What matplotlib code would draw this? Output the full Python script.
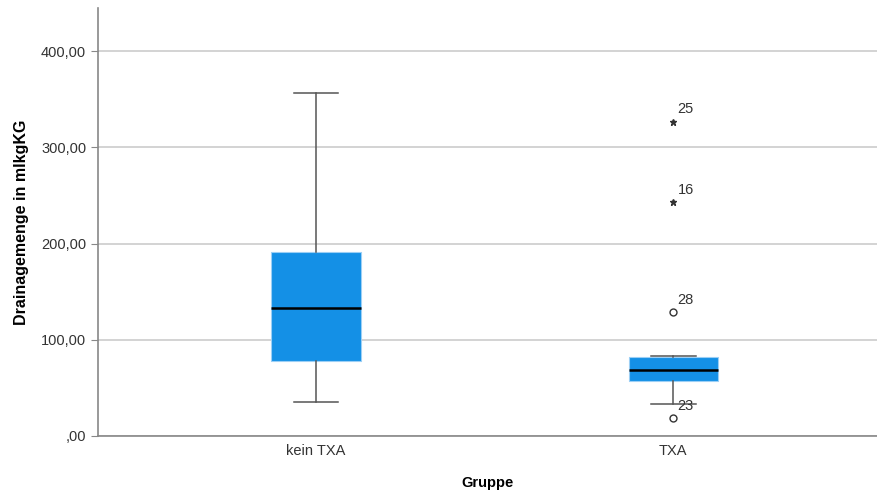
import matplotlib
matplotlib.use("Agg")
import matplotlib.pyplot as plt

plt.rcParams['font.family'] = ['Liberation Sans', 'DejaVu Sans']

# box statistics
groups = ["kein TXA", "TXA"]
whislo = [35.0, 33.2]
q1 = [78.3, 57.5]
med = [132.6, 68.6]
q3 = [190.8, 82.4]
whishi = [357.0, 83.4]

# outliers (circles) and extremes (stars) for TXA
outlier_vals = [128.5, 18.4]
outlier_ids = ["28", "23"]
extreme_vals = [326.6, 242.8]
extreme_ids = ["25", "16"]

blue = "#1490e6"

fig = plt.figure(figsize=(8.77, 4.95), dpi=100)
ax = fig.add_axes([0.1117, 0.1192, 0.8883, 0.8646])

stats = []
for i in range(len(groups)):
    stats.append(dict(label=groups[i], whislo=whislo[i], q1=q1[i], med=med[i],
                      q3=q3[i], whishi=whishi[i], fliers=[]))

ax.bxp(stats, positions=[0, 1], widths=0.25, patch_artist=True, showfliers=False,
       boxprops=dict(facecolor=blue, edgecolor="#9ccff5", linewidth=0.8),
       medianprops=dict(color="black", linewidth=1.8),
       whiskerprops=dict(color="#555555", linewidth=1.1),
       capprops=dict(color="#555555", linewidth=1.1),
       capwidths=0.125, zorder=3)

ax.plot([1] * len(outlier_vals), outlier_vals, 'o', mfc='white', mec='#333333',
        ms=5, mew=1.0, zorder=4)
ax.plot([1] * len(extreme_vals), extreme_vals, '*', color='#333333', ms=4.5, zorder=4)
for v, t in zip(outlier_vals + extreme_vals, outlier_ids + extreme_ids):
    ax.annotate(t, (1, v), xytext=(3, 4), textcoords='offset points',
                fontsize=10.5, color='#333333', ha='left', va='bottom')

ax.set_xlim(-0.61, 1.57)
ax.set_ylim(0, 445)
ax.set_yticks([0, 100, 200, 300, 400])
ax.set_yticklabels([",00", "100,00", "200,00", "300,00", "400,00"])
ax.yaxis.grid(True, color="#cccccc", linewidth=1.2)
ax.set_axisbelow(True)

for s in ["top", "right"]:
    ax.spines[s].set_visible(False)
ax.spines["left"].set_color("#888888")
ax.spines["bottom"].set_color("#888888")
ax.spines["left"].set_linewidth(1.2)
ax.spines["bottom"].set_linewidth(1.2)

ax.tick_params(axis='y', length=5, color="#888888", labelsize=10.5, labelcolor="#333333")
ax.tick_params(axis='x', length=0, labelsize=10.5, labelcolor="#333333", pad=6)

ax.set_xlabel("Gruppe", fontsize=10.5, fontweight='bold', labelpad=13)
ax.set_ylabel("Drainagemenge in mlkgKG", fontsize=11.5, fontweight='bold', labelpad=9)

fig.savefig("out.png", dpi=100)
